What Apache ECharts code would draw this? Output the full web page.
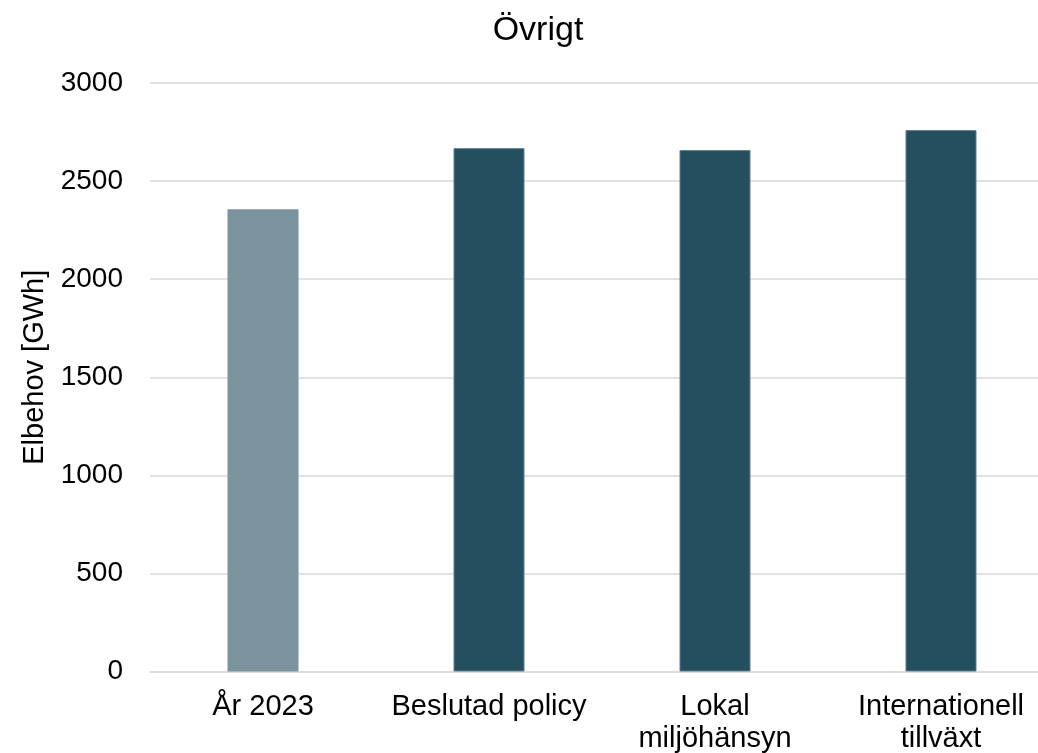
<!DOCTYPE html>
<html><head><meta charset="utf-8">
<script src="https://cdn.jsdelivr.net/npm/echarts@6/dist/echarts.min.js"></script>
<style>html,body{margin:0;padding:0;background:#fff;overflow:hidden}#c{width:1038px;height:753px}</style>
</head><body><div id="c"></div>
<script>
const categories = ['År 2023', 'Beslutad policy', 'Lokal\nmiljöhänsyn', 'Internationell\ntillväxt'];
const values = [2357, 2668, 2658, 2760];
const barColors = ['#7B939E', '#244F5F', '#244F5F', '#244F5F'];
const yTicks = { min: 0, max: 3000, interval: 500 };

const chart = echarts.init(document.getElementById('c'), null, { renderer: 'canvas' });
const font = '"Liberation Sans", Arial, sans-serif';
chart.setOption({
  animation: false,
  title: {
    text: 'Övrigt', left: 533, top: 9, textAlign: 'center',
    textStyle: { fontFamily: font, fontSize: 34, fontWeight: 'normal', color: '#000' }
  },
  grid: { left: 150, top: 83, width: 904, height: 588.5, outerBoundsMode: 'none', containLabel: false },
  xAxis: {
    type: 'category', data: categories,
    axisLine: { lineStyle: { color: '#d9d9d9', width: 1.5 } },
    axisTick: { show: false },
    axisLabel: { fontFamily: font, fontSize: 29, color: '#000', margin: 19, lineHeight: 32, interval: 0 }
  },
  yAxis: {
    type: 'value', min: yTicks.min, max: yTicks.max, interval: yTicks.interval,
    name: 'Elbehov [GWh]', nameLocation: 'middle', nameGap: 100, nameRotate: 90,
    nameTextStyle: { fontFamily: font, fontSize: 29, color: '#000', padding: [0, 0, 0, 20] },
    axisLine: { show: false }, axisTick: { show: false },
    axisLabel: { fontFamily: font, fontSize: 28, color: '#000', margin: 27, formatter: v => String(v) },
    splitLine: { lineStyle: { color: '#d9d9d9', width: 1.5 } }
  },
  series: [{
    type: 'bar', barWidth: 71,
    data: values.map((v, i) => ({ value: v, itemStyle: { color: barColors[i], borderColor: i === 0 ? '#7B939E' : '#5E7F8C', borderWidth: i === 0 ? 0 : 1 } }))
  }]
});
</script></body></html>
